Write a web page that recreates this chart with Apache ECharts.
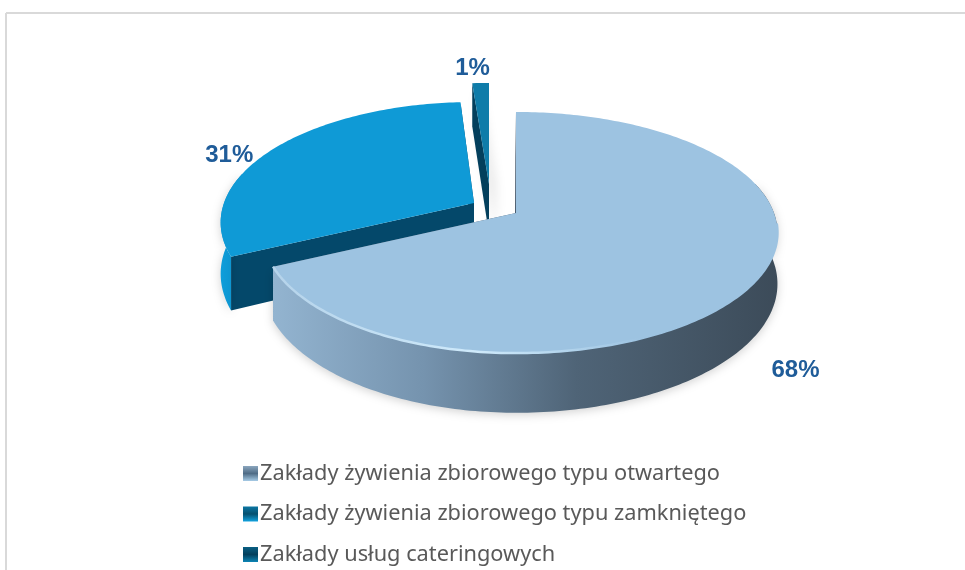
<!DOCTYPE html>
<html>
<head>
<meta charset="utf-8">
<style>html,body{margin:0;padding:0;background:#fff}#chart{width:965px;height:570px}</style>
<script src="https://cdn.jsdelivr.net/npm/echarts@6/dist/echarts.min.js"></script>
</head>
<body>
<div id="chart"></div>
<script>
const categories = [
  'Zakłady żywienia zbiorowego typu otwartego',
  'Zakłady żywienia zbiorowego typu zamkniętego',
  'Zakłady usług cateringowych'
];
const values = [68, 31, 1];

// Projection of the tilted, exploded pie
const R_RIGHT = 258, R_LEFT = [250, 250, 310], R_Y = 117.4, PERSP = 0.162, DEPTH = 50;
const apexes = [[516, 213], [474, 203], [489, 184]];
const labelOffsets = [[41, 88], [-46, 8], [-8, -15]];
const topFill = ['#9dc3e1', '#0f9ad6', '#0f7ca9'];
const wallFill = ['#4a5c6e', '#04486a', '#033f5c'];
const outerFill = [
  {type:'linear',x:273,y:0,x2:778,y2:0,global:true,colorStops:[
    {offset:0,color:'#93b4d0'},{offset:.3,color:'#7593ae'},{offset:.6,color:'#4f6477'},{offset:1,color:'#3c4b59'}]},
  {type:'linear',x:218,y:0,x2:260,y2:0,global:true,colorStops:[
    {offset:0,color:'#0fa0de'},{offset:1,color:'#0a7fb2'}]},
  '#0a6a92'
];
const rimFill = {type:'linear',x:273,y:0,x2:640,y2:0,global:true,colorStops:[
  {offset:0,color:'#b5d3ea'},{offset:.55,color:'#cfeafb'},{offset:1,color:'#9dc3e1'}]};
const legendFill = [
  {type:'linear',x:0,y:0,x2:0,y2:1,colorStops:[{offset:0,color:'#8ba6be'},{offset:.5,color:'#4f6c86'},{offset:1,color:'#a6cbe6'}]},
  {type:'linear',x:0,y:0,x2:0,y2:1,colorStops:[{offset:0,color:'#0b76a3'},{offset:.5,color:'#06506f'},{offset:1,color:'#12a3df'}]},
  {type:'linear',x:0,y:0,x2:0,y2:1,colorStops:[{offset:0,color:'#0a5f83'},{offset:.5,color:'#033f5c'},{offset:1,color:'#0d85b5'}]}
];

const total = values.reduce((a, b) => a + b, 0);
const rad = d => d * Math.PI / 180;

function project(i, deg) {
  const t = rad(deg), s = 1 / (1 + PERSP * Math.cos(t)), sn = Math.sin(t);
  return {
    x: apexes[i][0] + (sn < 0 ? R_LEFT[i] : R_RIGHT) * sn * s,
    y: apexes[i][1] - R_Y * Math.cos(t) * s,
    d: DEPTH * s
  };
}
function arc(i, from, to) {
  const pts = [], n = Math.max(2, Math.ceil(to - from) + 1);
  for (let k = 0; k < n; k++) pts.push(project(i, from + (to - from) * k / (n - 1)));
  return pts;
}
const poly = (points, fill, extra) => ({
  type: 'polygon', silent: true,
  shape: { points }, style: Object.assign({ fill }, extra || {})
});
function wall(i, deg, extra) {
  const a = apexes[i], p = project(i, deg);
  return poly([a, [p.x, p.y], [p.x, p.y + p.d], [a[0], a[1] + DEPTH]], wallFill[i], extra);
}
const wallExtras = [
  { stroke: {type:'linear',x:0,y:112,x2:0,y2:213,global:true,colorStops:[
      {offset:0,color:'rgba(74,92,110,0)'},{offset:.45,color:'rgba(74,92,110,0.7)'},{offset:1,color:'#4a5c6e'}]}, lineWidth: 2 },
  {},
  { shadowBlur: 12, shadowOffsetX: 6, shadowColor: 'rgba(0,0,0,0.13)' }
];

function renderSlice(i) {
  return function (params, api) {
    const before = values.slice(0, i).reduce((a, b) => a + b, 0);
    const from = before / total * 360;
    const to = (before + api.value(0)) / total * 360;
    const a = arc(i, from, to);
    const mid = project(i, (from + to) / 2);
    const children = [wall(i, to), wall(i, from, wallExtras[i])];
    // only the front-facing part of the curved wall can be seen
    const outerFrom = Math.max(from, 75), outerTo = Math.min(to, 285);
    if (outerTo > outerFrom) {
      const o = arc(i, outerFrom, outerTo);
      children.push(poly(
        o.map(p => [p.x, p.y]).concat(o.slice().reverse().map(p => [p.x, p.y + p.d])),
        outerFill[i], { shadowBlur: 10, shadowColor: 'rgba(0,0,0,0.18)', shadowOffsetY: 2 }
      ));
    }
    children.push(poly([apexes[i]].concat(a.map(p => [p.x, p.y])), topFill[i]));
    if (i === 0) {
      children.push({
        type: 'polyline', silent: true,
        shape: { points: arc(i, 95, to).map(p => [p.x, p.y]) },
        style: { fill: null, stroke: rimFill, lineWidth: 2.5 }
      });
    }
    children.push({
      type: 'text', silent: true,
      style: {
        text: Math.round(api.value(0) / total * 100) + '%',
        x: mid.x + labelOffsets[i][0], y: mid.y + labelOffsets[i][1],
        align: 'center', verticalAlign: 'middle',
        font: 'bold 24px "Liberation Sans", sans-serif', fill: '#1f5c99'
      }
    });
    return { type: 'group', children };
  };
}

const order = [2, 1, 0];
const chart = echarts.init(document.getElementById('chart'), null, { renderer: 'canvas' });
chart.setOption({
  animation: false,
  backgroundColor: '#fff',
  legend: {
    orient: 'vertical', left: 243, top: 461, padding: 0,
    itemWidth: 15, itemHeight: 15, itemGap: 15.5, icon: 'rect',
    data: categories,
    selectedMode: false,
    textStyle: { fontFamily: '"Noto Sans"', fontSize: 21.75, color: '#595959', padding: [0, 0, 0, -3], lineHeight: 25 }
  },
  graphic: [
    { type: 'line', shape: { x1: 6, y1: 13, x2: 965, y2: 13 }, style: { stroke: '#d9d9d9', lineWidth: 2 } },
    { type: 'line', shape: { x1: 6, y1: 13, x2: 6, y2: 570 }, style: { stroke: '#d9d9d9', lineWidth: 2 } }
  ],
  series: order.map(i => ({
    type: 'custom',
    name: categories[i],
    coordinateSystem: 'none',
    itemStyle: { color: legendFill[i] },
    renderItem: renderSlice(i),
    data: [[values[i]]]
  }))
});
</script>
</body>
</html>
